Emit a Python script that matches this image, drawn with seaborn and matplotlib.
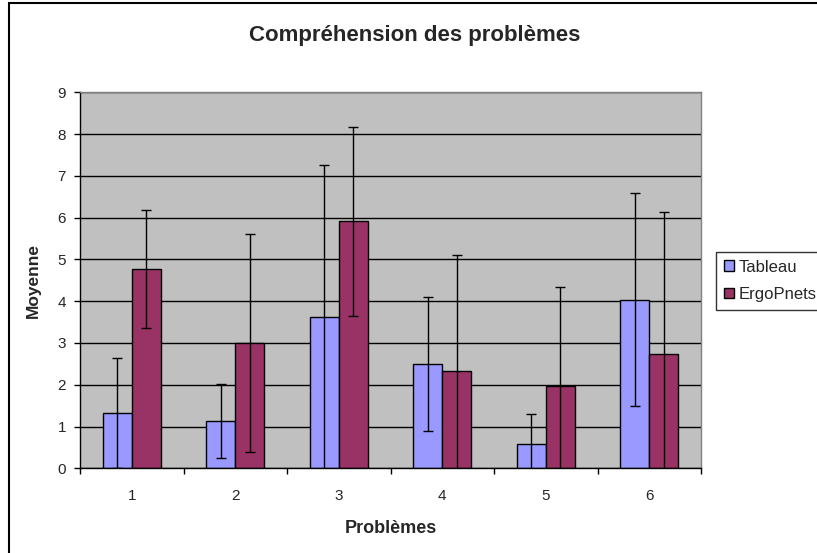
import matplotlib
matplotlib.use("Agg")
import matplotlib.pyplot as plt
from matplotlib.patches import Rectangle
import seaborn as sns
import pandas as pd
import numpy as np

problems = ["1", "2", "3", "4", "5", "6"]
series = ["Tableau", "ErgoPnets"]
tableau_mean = [1.33, 1.13, 3.62, 2.49, 0.59, 4.03]
tableau_sd = [1.32, 0.89, 3.64, 1.60, 0.70, 2.55]
ergo_mean = [4.77, 3.01, 5.91, 2.33, 1.97, 2.74]
ergo_sd = [1.42, 2.61, 2.26, 2.78, 2.38, 3.40]
colors = ["#9999FF", "#993366"]
yticks = list(range(0, 10))

df = pd.DataFrame({
    "Problème": problems * 2,
    "Moyenne": tableau_mean + ergo_mean,
    "Série": [series[0]] * len(problems) + [series[1]] * len(problems),
})
sds = {series[0]: tableau_sd, series[1]: ergo_sd}

sns.set_style("white")
plt.rcParams["font.family"] = ["Liberation Sans", "DejaVu Sans"]

fig = plt.figure(figsize=(8.17, 5.53), dpi=100)
ax = fig.add_axes([80 / 817, 1 - 468.3 / 553, (701 - 80) / 817, (468.3 - 92.3) / 553])
ax.set_facecolor("#C0C0C0")

sns.barplot(data=df, x="Problème", y="Moyenne", hue="Série", hue_order=series,
            palette=colors, width=0.56, errorbar=None, saturation=1,
            edgecolor="black", linewidth=1, ax=ax, legend=True, zorder=2)

for cont, name in zip(ax.containers, series):
    xs = [p.get_x() + p.get_width() / 2 for p in cont.patches]
    hs = [p.get_height() for p in cont.patches]
    ax.errorbar(xs, hs, yerr=sds[name], fmt="none", ecolor="black",
                elinewidth=1, capsize=3.3, capthick=1, zorder=3)

ax.set_ylim(0, 9)
ax.set_xlim(-0.5, 5.5)
ax.set_yticks(yticks)
ax.set_yticklabels([str(v) for v in yticks], fontsize=11)
ax.yaxis.grid(True, color="black", linewidth=1)
ax.set_axisbelow(True)

ax.set_xticks(np.arange(-0.5, 6.0, 1.0))
ax.set_xticklabels([""] * 7)
ax.set_xticks(np.arange(0, 6), minor=True)
ax.set_xticklabels(problems, minor=True, fontsize=11)
ax.tick_params(axis="x", which="major", direction="out", length=4, width=1, color="black", bottom=True)
ax.tick_params(axis="x", which="minor", length=0, pad=15)
ax.tick_params(axis="y", direction="out", length=4, width=1, color="black", left=True, pad=6)

for s in ["left", "bottom"]:
    ax.spines[s].set_color("black")
    ax.spines[s].set_linewidth(1)
for s in ["top", "right"]:
    ax.spines[s].set_color("#808080")
    ax.spines[s].set_linewidth(1)

ax.set_xlabel("Problèmes", fontsize=13, fontweight="bold", labelpad=12)
ax.set_ylabel("Moyenne", fontsize=12.5, fontweight="bold", labelpad=12)

fig.text(415 / 817, 1 - 35 / 553, "Compréhension des problèmes", ha="center", va="center",
         fontsize=16, fontweight="bold")

handles, labels = ax.get_legend_handles_labels()
ax.get_legend().remove()
leg = fig.legend(handles, labels, loc="upper left", bbox_to_anchor=(716 / 817, 1 - 252 / 553),
                 frameon=True, fancybox=False, edgecolor="black", fontsize=12,
                 handlelength=0.6, handleheight=0.6, handletextpad=0.3,
                 borderpad=0.45, labelspacing=0.75, borderaxespad=0)
leg.get_frame().set_linewidth(1)

fig.add_artist(Rectangle((9 / 817, -0.05), 1.1, 1 - 3 / 553 + 0.05, fill=False,
                         edgecolor="black", linewidth=1.5, transform=fig.transFigure))

fig.savefig("out.png", dpi=100)
